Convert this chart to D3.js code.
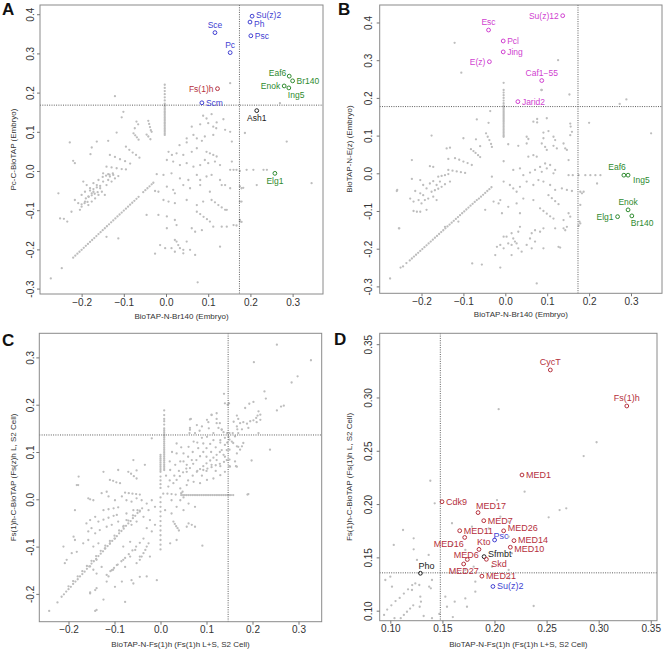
<!DOCTYPE html>
<html><head><meta charset="utf-8">
<script src="https://cdn.jsdelivr.net/npm/d3@7"></script>
<style>body{margin:0;background:#fff}text{font-family:"Liberation Sans",Arial,sans-serif}</style>
</head><body><svg id="c" width="664" height="650"></svg>
<script>
// ---------------- DATA ----------------
// Panel A: x = BioTAP-N-Br140 (Embryo), y = Pc-C-BioTAP (Embryo)
const grayA = [-0.121,0.191,-0.101,0.151,-0.105,0.137,-0.070,0.126,-0.066,0.119,-0.074,0.109,
-0.042,0.128,-0.040,0.120,-0.038,0.112,-0.036,0.104,-0.034,0.100,-0.046,0.093,-0.042,0.088,-0.037,0.081,
-0.077,0.096,-0.073,0.091,-0.069,0.086,-0.065,0.080,0.088,0.141,0.108,0.145,0.096,0.134,0.136,0.132,0.061,0.113,
0.081,0.119,0.100,0.122,0.112,0.113,0.120,0.124,0.119,0.109,-0.117,0.098,-0.137,0.077,-0.164,0.075,-0.228,0.073,
0.049,0.083,0.065,0.092,0.073,0.083,0.092,0.088,0.112,0.092,0.140,0.105,0.152,0.100,0.156,0.075,0.032,0.066,
0.049,0.073,0.085,0.077,-0.095,0.062,-0.087,0.054,-0.079,0.047,-0.071,0.041,-0.063,0.034,-0.176,0.060,-0.179,0.043,
0.006,0.049,0.014,0.041,0.025,0.045,0.041,0.041,0.061,0.049,0.073,0.058,0.096,0.049,0.104,0.045,0.112,0.041,0.120,0.037,
-0.220,0.026,-0.216,0.020,-0.133,0.041,-0.121,0.036,-0.109,0.030,-0.097,0.025,-0.085,0.019,
-0.141,0.011,-0.129,0.009,-0.117,0.007,-0.105,0.005,-0.095,0.004,
0.002,0.028,0.017,0.024,0.033,0.015,0.049,0.020,0.065,0.011,0.081,0.015,0.092,0.028,0.100,0.020,0.116,0.024,0.128,0.015,0.156,0.024,0.160,0.003,
-0.149,-0.006,-0.137,-0.008,-0.125,-0.010,-0.113,-0.013,
-0.022,-0.008,-0.006,-0.010,0.013,-0.006,0.033,-0.019,0.053,-0.023,0.073,-0.010,0.081,-0.023,0.096,-0.014,0.108,-0.010,0.128,-0.023,0.140,-0.036,
-0.196,-0.027,-0.188,-0.036,-0.180,-0.044,-0.172,-0.053,-0.164,-0.036,-0.156,-0.044,-0.149,-0.027,-0.141,-0.036,-0.160,-0.061,-0.168,-0.070,
-0.176,-0.057,-0.184,-0.065,-0.152,-0.053,-0.145,-0.061,-0.137,-0.023,-0.129,-0.027,-0.133,-0.014,-0.121,-0.019,-0.160,-0.023,-0.172,-0.031,
-0.192,-0.053,-0.200,-0.061,-0.255,-0.057,-0.216,-0.074,-0.208,-0.082,-0.200,-0.091,-0.192,-0.078,-0.184,-0.087,-0.176,-0.078,-0.204,-0.099,
-0.224,-0.104,-0.251,-0.121,-0.242,-0.122,-0.234,-0.129,
-0.190,-0.070,-0.183,-0.066,-0.176,-0.062,-0.169,-0.058,-0.162,-0.054,-0.180,-0.050,-0.172,-0.046,-0.164,-0.042,-0.156,-0.038,
-0.150,-0.015,-0.142,-0.012,-0.134,-0.009,-0.126,-0.006,-0.200,-0.085,-0.193,-0.082,-0.186,-0.079,
-0.026,-0.051,-0.018,-0.053,0.002,-0.040,0.017,-0.048,0.021,-0.057,0.041,-0.036,0.057,-0.044,0.081,-0.036,0.104,-0.053,0.132,-0.036,0.152,-0.044,0.179,-0.044,
-0.006,-0.074,0.006,-0.078,0.021,-0.082,0.049,-0.074,0.073,-0.087,0.088,-0.078,
0.108,-0.074,0.116,-0.080,0.124,-0.087,0.132,-0.093,0.140,-0.099,0.175,-0.078,
-0.046,-0.112,-0.018,-0.112,0.002,-0.116,0.021,-0.125,
0.073,-0.104,0.081,-0.110,0.089,-0.117,0.097,-0.123,0.104,-0.129,0.144,-0.099,0.175,-0.129,
-0.141,-0.168,-0.113,-0.172,0.025,-0.138,0.002,-0.146,0.061,-0.146,0.069,-0.155,0.085,-0.151,0.112,-0.142,0.132,-0.142,0.144,-0.142,0.160,-0.138,
-0.014,-0.189,-0.002,-0.197,0.021,-0.176,0.025,-0.180,0.029,-0.189,0.033,-0.197,0.049,-0.180,0.041,-0.201,0.013,-0.197,0.057,-0.201,0.128,-0.193,
-0.026,-0.211,0.021,-0.206,0.041,-0.210,0.069,-0.214,-0.247,-0.248,-0.273,-0.274,0.075,-0.284,
0.152,0.224,0.152,0.003,0.167,0.003,0.175,0.000,0.191,0.003,0.207,0.003,0.231,0.003,0.239,0.003,0.215,-0.036,0.345,-0.031,
0.175,-0.039,0.183,-0.043,0.179,-0.078,0.175,-0.125,0.179,-0.130,0.167,-0.139,0.270,0.173,0.286,0.075,0.187,0.097];
const diagA = [-0.220,-0.221,-0.215,-0.216,-0.210,-0.211,-0.205,-0.206,-0.200,-0.201,-0.195,-0.196,-0.190,-0.191,-0.185,-0.186,
-0.180,-0.181,-0.175,-0.176,-0.170,-0.171,-0.165,-0.166,-0.160,-0.161,-0.155,-0.156,-0.150,-0.151,-0.145,-0.146,-0.140,-0.141,
-0.135,-0.136,-0.130,-0.131,-0.125,-0.126,-0.120,-0.121,-0.115,-0.116,-0.110,-0.111,-0.105,-0.106,-0.100,-0.101,-0.095,-0.096,
-0.090,-0.091,-0.085,-0.086,-0.080,-0.081,-0.075,-0.076,-0.070,-0.071,-0.065,-0.066,-0.054,-0.054,-0.049,-0.049,-0.044,-0.044,
-0.039,-0.039,-0.034,-0.034,-0.030,-0.030];
const stackAx = -0.003;
const stackAy = [0.220,0.212,0.204,0.196,0.188,0.180,0.172,0.168,0.164,0.160,0.156,0.152,0.148,0.144,0.140,0.136,0.132,0.128,0.124,0.120,0.116,0.112,0.108,0.104,0.100,0.096,0.092];
const markA = [["Su(z)2",0.204,0.395,"blue","r2"],["Ph",0.199,0.380,"blue","r5"],["Psc",0.201,0.345,"blue","r"],
["Sce",0.116,0.353,"blue","t"],["Pc",0.152,0.302,"blue","t"],["Fs(1)h",0.122,0.210,"red","l"],["Scm",0.085,0.174,"blue","r"],
["Ash1",0.215,0.154,"black","b"],["Eaf6",0.292,0.242,"green","lu"],["Br140",0.300,0.230,"green","r"],["Enok",0.280,0.217,"green","l"],
["Ing5",0.291,0.212,"green","br"],["Elg1",0.258,-0.006,"green","b"]];

// Panel B: x = BioTAP-N-Br140 (Embryo), y = BioTAP-N-E(z) (Embryo)
const grayB = [0.087,0.221,0.153,0.209,-0.036,0.165,-0.068,0.143,-0.040,0.134,0.067,0.137,0.099,0.146,0.155,0.132,0.156,0.124,0.200,0.134,
-0.176,0.100,0.051,0.097,0.055,0.091,0.091,0.108,0.091,0.093,0.103,0.112,0.115,0.097,0.119,0.088,0.159,0.110,0.155,0.101,0.007,0.077,0.031,0.073,0.051,0.079,
-0.046,0.106,-0.042,0.097,-0.038,0.088,-0.034,0.078,-0.032,0.070,-0.082,0.064,-0.076,0.059,-0.071,0.054,-0.065,0.048,-0.060,0.043,
-0.132,0.068,-0.140,0.066,-0.060,0.072,-0.100,0.093,-0.070,0.090,
0.087,0.079,0.095,0.070,0.099,0.062,0.115,0.073,0.123,0.066,0.139,0.079,0.143,0.066,0.067,0.048,0.075,0.044,0.055,0.044,0.147,0.062,
-0.223,0.035,-0.180,0.019,-0.172,0.017,-0.136,0.038,-0.120,0.040,-0.110,0.036,-0.100,0.031,-0.090,0.027,-0.080,0.022,
-0.136,0.009,-0.126,0.007,-0.116,0.005,-0.106,0.003,-0.096,0.001,-0.004,0.032,-0.032,-0.009,
0.019,0.009,0.035,0.013,0.043,-0.005,0.059,0.002,0.071,0.009,0.083,0.017,0.087,0.004,0.095,0.026,0.099,0.013,0.107,0.022,0.115,0.000,0.119,0.009,0.151,0.035,0.161,-0.005,
0.151,-0.005,0.175,-0.005,0.191,-0.005,0.203,-0.005,0.215,-0.005,0.227,-0.005,
-0.223,-0.015,-0.203,-0.018,-0.196,-0.031,-0.188,-0.040,-0.180,-0.027,-0.172,-0.021,-0.164,-0.031,-0.156,-0.022,-0.152,-0.036,-0.144,-0.029,-0.132,-0.022,
-0.259,-0.047,-0.215,-0.047,-0.227,-0.067,-0.219,-0.075,-0.207,-0.071,-0.200,-0.080,-0.192,-0.071,-0.184,-0.067,-0.172,-0.062,-0.164,-0.071,
-0.203,-0.053,-0.196,-0.058,-0.219,-0.100,-0.211,-0.102,-0.203,-0.102,-0.188,-0.097,-0.176,-0.049,-0.168,-0.045,-0.160,-0.041,
-0.160,-0.009,-0.152,-0.007,-0.144,-0.005,-0.136,-0.002,
-0.004,-0.022,0.011,-0.031,0.019,-0.040,0.027,-0.049,0.035,-0.036,0.051,-0.022,0.067,-0.031,0.079,-0.018,0.091,-0.022,0.107,-0.031,0.119,-0.044,0.135,-0.040,0.147,-0.044,0.159,-0.047,0.187,-0.049,
-0.028,-0.075,-0.016,-0.080,-0.012,-0.071,0.007,-0.089,0.027,-0.080,0.043,-0.067,0.067,-0.071,
0.103,-0.058,0.111,-0.066,0.119,-0.074,0.127,-0.082,0.179,-0.084,-0.048,-0.097,-0.008,-0.106,0.035,-0.106,
0.083,-0.093,0.091,-0.100,0.099,-0.107,0.107,-0.114,0.115,-0.120,0.151,-0.106,0.155,-0.115,0.139,-0.124,0.179,-0.133,
-0.253,-0.146,-0.144,-0.142,-0.112,-0.128,
-0.004,-0.168,0.003,-0.168,0.015,-0.159,0.019,-0.173,0.023,-0.181,0.031,-0.155,0.035,-0.142,0.059,-0.173,0.063,-0.159,0.071,-0.151,0.083,-0.155,0.091,-0.146,0.119,-0.146,0.139,-0.146,0.143,-0.151,0.147,-0.142,
-0.020,-0.195,-0.012,-0.190,-0.004,-0.199,0.007,-0.186,0.015,-0.190,0.027,-0.186,0.031,-0.199,0.039,-0.208,0.051,-0.190,0.063,-0.199,0.071,-0.181,0.091,-0.199,0.131,-0.197,
-0.024,-0.217,0.015,-0.217,-0.056,-0.242,-0.012,-0.250,0.075,-0.292,-0.275,-0.279,
-0.121,0.346,-0.105,0.267,0.126,0.300,0.086,0.221,0.273,0.184,0.289,0.196,0.348,0.106,0.076,0.144,0.076,0.135,
0.179,-0.049,0.183,-0.053,0.177,-0.128,0.175,-0.139,0.219,-0.027,-0.258,-0.044,-0.254,-0.146,0.127,-0.195,-0.079,-0.239];
const diagB = [-0.250,-0.250,-0.244,-0.247,-0.236,-0.238,-0.228,-0.231,-0.223,-0.226,-0.218,-0.221,-0.213,-0.216,-0.208,-0.211,-0.203,-0.206,
-0.198,-0.201,-0.193,-0.196,-0.188,-0.191,-0.183,-0.186,-0.178,-0.181,-0.173,-0.176,-0.168,-0.171,-0.163,-0.166,-0.158,-0.161,
-0.153,-0.156,-0.148,-0.151,-0.143,-0.146,-0.138,-0.141,-0.133,-0.136,-0.128,-0.131,-0.123,-0.126,-0.118,-0.121,-0.113,-0.116,
-0.108,-0.111,-0.103,-0.106,-0.098,-0.101,-0.093,-0.096,-0.088,-0.091,-0.083,-0.086,-0.078,-0.081,-0.073,-0.076,-0.068,-0.071,
-0.063,-0.067,-0.058,-0.062,-0.053,-0.057,-0.048,-0.052,-0.043,-0.047,-0.038,-0.042,-0.033,-0.037];
const stackBx = -0.004;
const stackBy = [0.240,0.221,0.214,0.207,0.200,0.193,0.186,0.180,0.176,0.172,0.168,0.164,0.160,0.156,0.152,0.148,0.144,0.140,0.136,0.132,0.128,0.124,0.120,0.116,0.112,0.108,0.104,0.100,0.097];
const markB = [["Su(z)12",0.137,0.418,"magenta","l"],["Esc",-0.040,0.380,"magenta","t"],["Pcl",-0.005,0.351,"magenta","r"],
["Jing",-0.005,0.322,"magenta","r"],["E(z)",-0.038,0.296,"magenta","l"],["Caf1\u221255",0.087,0.246,"magenta","t"],
["Jarid2",0.030,0.190,"magenta","r"],["Eaf6",0.283,-0.005,"green","tl"],["Ing5",0.293,-0.005,"green","rd"],
["Enok",0.293,-0.097,"green","t"],["Br140",0.302,-0.113,"green","br"],["Elg1",0.268,-0.115,"green","l"]];

// Panel C: x = BioTAP-N-Fs(1)h (L+S, S2), y = Fs(1)h-C-BioTAP (L, S2)
const grayC = [-0.242,-0.236,-0.224,-0.218,-0.142,-0.236,-0.077,-0.217,-0.124,-0.212,-0.153,-0.197,-0.142,-0.192,-0.186,-0.023,-0.179,0.030,
-0.211,-0.100,-0.208,-0.135,-0.204,-0.128,-0.189,-0.079,-0.186,-0.086,-0.153,0.000,-0.092,0.062,-0.059,0.083,-0.034,0.073,-0.052,0.061,
-0.019,0.129,0.035,0.118,0.064,0.169,0.090,0.154,0.111,0.178,0.122,0.161,0.140,0.203,0.159,0.164,0.166,0.154,0.157,0.140,
-0.008,-0.171,0.091,-0.098,0.075,-0.058,0.061,-0.051,0.068,-0.054,
-0.110,0.041,-0.103,0.039,-0.096,0.036,-0.088,0.034,-0.070,0.058,-0.064,0.054,-0.058,0.049,-0.052,0.044,
-0.077,0.014,-0.069,0.013,-0.061,0.012,-0.053,0.011,-0.045,0.010,-0.124,-0.023,-0.113,-0.021,-0.102,-0.019,-0.092,-0.017,
-0.135,-0.047,-0.124,-0.043,-0.113,-0.039,-0.102,-0.035,-0.095,-0.033,
-0.146,-0.002,-0.128,0.013,-0.117,0.016,-0.113,0.006,-0.099,-0.002,-0.084,0.006,-0.074,-0.002,-0.063,-0.005,-0.052,0.002,-0.041,-0.002,
-0.030,-0.009,-0.019,-0.002,-0.012,-0.016,-0.026,-0.023,-0.045,-0.026,-0.059,-0.023,-0.074,-0.030,-0.142,-0.037,-0.153,-0.044,-0.161,-0.051,
-0.150,-0.061,-0.157,-0.068,-0.142,-0.072,-0.132,-0.065,-0.117,-0.058,-0.106,-0.054,-0.092,-0.047,-0.081,-0.058,-0.074,-0.044,-0.063,-0.054,
-0.052,-0.047,-0.037,-0.037,-0.023,-0.044,-0.012,-0.054,-0.019,-0.068,-0.030,-0.061,-0.168,-0.093,-0.157,-0.086,-0.146,-0.100,-0.135,-0.093,
-0.121,-0.104,-0.110,-0.093,-0.099,-0.083,-0.081,-0.100,-0.066,-0.090,-0.055,-0.107,-0.066,-0.121,-0.081,-0.128,-0.095,-0.139,-0.106,-0.150,
-0.077,-0.143,-0.052,-0.135,-0.045,-0.121,-0.023,-0.121,-0.026,-0.093,-0.139,-0.128,-0.128,-0.143,-0.139,-0.157,-0.117,-0.174,-0.099,-0.185,
-0.084,-0.174,-0.059,-0.178,-0.045,-0.164,0.021,-0.093,0.035,-0.086,
0.010,-0.023,0.024,-0.030,0.035,-0.016,0.050,-0.023,0.061,-0.009,0.075,-0.016,0.024,-0.002,0.043,-0.002,0.017,0.027,0.028,0.034,
0.043,0.023,0.057,0.030,0.072,0.037,0.086,0.034,0.101,0.041,0.115,0.044,0.130,0.051,0.140,0.058,0.151,0.069,0.021,0.062,
0.032,0.073,0.043,0.080,0.035,0.097,0.050,0.097,0.061,0.111,0.072,0.122,0.082,0.108,0.093,0.118,0.101,0.132,0.115,0.140,
0.130,0.125,0.140,0.115,0.144,0.104,0.137,0.094,0.122,0.083,0.111,0.073,0.068,0.083,0.057,0.073,0.064,0.147,0.079,0.157,
0.101,0.168,0.122,0.182,0.133,0.147,0.148,0.132,0.155,0.122,0.169,0.111,0.166,0.097,0.162,0.080,0.166,0.069,
0.060,0.090,0.070,0.100,0.080,0.120,0.090,0.130,0.100,0.090,0.110,0.100,0.120,0.110,0.130,0.120,0.140,0.130,0.050,0.080,
0.060,0.040,0.070,0.050,0.080,0.060,0.090,0.050,0.100,0.060,0.120,0.060,0.130,0.070,0.140,0.090,0.145,0.120,0.145,0.140,
0.030,0.050,0.040,0.060,0.020,0.040,0.012,0.050,0.020,0.080,0.025,0.100,0.045,0.110,0.075,0.140,0.085,0.145,0.105,0.150,
-0.193,-0.114,-0.182,-0.111,-0.153,-0.142,-0.146,-0.149,-0.153,-0.199,-0.139,-0.188,-0.139,-0.234,-0.103,-0.149,-0.113,-0.163,
-0.063,-0.171,-0.030,-0.163,0.057,-0.058,-0.182,0.030,-0.157,0.002,-0.124,0.058,-0.178,0.048,0.045,0.013,0.050,0.004,0.048,0.016,
0.253,0.327,0.203,0.290,0.327,0.294,0.298,0.260,0.285,0.247,0.226,0.228,0.229,0.213,0.138,0.223,0.149,0.203,0.146,0.200,
0.202,0.206,0.193,0.202,0.184,0.193,0.253,0.188,0.262,0.196,0.268,0.198,0.213,0.186,0.217,0.179,0.211,0.177,0.208,0.172,
0.217,0.168,0.209,0.163,0.202,0.167,0.166,0.177,0.169,0.170,0.173,0.161,0.180,0.163,0.188,0.160,0.195,0.165,0.191,0.151,
0.177,0.148,0.167,0.148,0.169,0.140,0.162,0.133,0.213,0.140,0.238,0.105,0.198,0.082,0.164,0.070,0.189,0.010,0.111,0.179,
0.104,0.163,0.122,0.170,0.129,0.161,0.126,0.151,0.133,0.148,0.137,0.142,0.066,0.170,0.064,0.151,0.063,0.140,0.150,0.140,
0.150,0.126,0.150,0.105,0.150,0.084,0.150,0.070,0.158,0.119,0.166,0.112,0.173,0.105,0.180,0.119,0.177,0.112,0.191,0.011];
const raysC = [0.057,0.058,0.064,0.066,0.071,0.075,0.078,0.083,0.086,0.091,0.093,0.100,0.100,0.108,0.108,0.117,0.115,0.125,
0.079,0.058,0.086,0.064,0.093,0.070,0.100,0.076,0.108,0.082,0.115,0.088,0.122,0.094,0.129,0.100,0.133,0.104,
0.093,0.062,0.102,0.065,0.111,0.068,0.120,0.072,0.129,0.075,0.138,0.079,0.144,0.083,0.035,0.041,0.042,0.049,0.049,0.057,0.056,0.065,
-0.117,-0.160,-0.109,-0.152,-0.101,-0.145,-0.093,-0.138,-0.085,-0.131,-0.077,-0.124,-0.069,-0.116,-0.061,-0.108,-0.053,-0.100,-0.045,-0.092,-0.037,-0.083,
-0.045,-0.128,-0.041,-0.121,-0.037,-0.114,-0.033,-0.107,-0.030,-0.100,0.028,-0.047,0.031,-0.052,0.034,-0.057,0.037,-0.061,0.040,-0.066,
0.006,0.012,0.015,0.012,0.024,0.011,0.033,0.010];
const diagC = [-0.215,-0.206,-0.210,-0.201,-0.205,-0.195,-0.200,-0.190,-0.195,-0.185,-0.190,-0.179,-0.185,-0.174,-0.180,-0.169,-0.175,-0.163,
-0.170,-0.158,-0.165,-0.153,-0.160,-0.147,-0.155,-0.142,-0.150,-0.136,-0.145,-0.131,-0.140,-0.126,-0.135,-0.120,-0.130,-0.115,
-0.125,-0.110,-0.120,-0.104,-0.115,-0.099,-0.110,-0.094,-0.105,-0.088,-0.100,-0.083,-0.095,-0.078,-0.090,-0.072,-0.085,-0.067,
-0.080,-0.062,-0.075,-0.056,-0.070,-0.051,-0.065,-0.046,-0.060,-0.040,-0.055,-0.035,-0.050,-0.029,-0.045,-0.024,-0.040,-0.019,
-0.200,-0.184,-0.190,-0.173,-0.180,-0.163,-0.170,-0.152,-0.160,-0.141,-0.150,-0.130,-0.140,-0.120,-0.130,-0.109,-0.120,-0.098,
-0.110,-0.088,-0.100,-0.077,-0.090,-0.066,-0.080,-0.056,-0.070,-0.045,-0.060,-0.034,-0.050,-0.023];
const stackC1x = 0.008;
const stackC1y = [0.188,0.178,0.170,0.165,0.158,0.150,0.146,0.142,0.138,0.134,0.130,0.126,0.122,0.118,0.114,0.110,0.106,0.102,0.098,0.094,0.090,0.086,0.082,0.078,0.074,0.070,0.066,0.062];
const stackC2x = 0.000;
const stackC2y = [0.094,0.090,0.086,0.082,0.078,0.074,0.070,0.066,0.062,0.058,0.048,0.040,0.032,0.024,0.004,-0.006,-0.016,-0.026,-0.036,-0.046,-0.056,-0.066,-0.076,-0.086,-0.096,-0.106];
const hrayCy = 0.009;
const hrayCx = [0.045,0.049,0.053,0.057,0.061,0.065,0.069,0.073,0.077,0.081,0.085,0.089,0.093,0.097,0.101,0.105,0.109,0.113,0.117,0.121,0.125,0.129,0.133,0.137,0.141,0.145,0.149,0.153,0.158];

// Panel D: zoom of panel C's upper right
const grayD = [0.1384,0.2219,0.2289,0.2116,0.1426,0.2007,0.2024,0.2038,0.2520,0.1876,0.2625,0.1944,0.2689,0.1960,0.2136,0.1835,
0.1122,0.1757,0.1224,0.1679,0.1033,0.1617,0.1224,0.1576,0.1368,0.1523,0.1256,0.1476,0.2056,0.1882,0.1944,0.1773,0.2136,0.1694,
0.2168,0.1538,0.2136,0.1382,0.2142,0.1304,0.1720,0.1570,0.1800,0.1413,0.1816,0.1272,0.1720,0.1382,0.1976,0.1413,0.1592,0.1820,
0.1784,0.1788,0.1592,0.1616,0.1016,0.1225,0.0952,0.1288,0.1000,0.1319,0.1278,0.1241,0.1373,0.1225,0.1389,0.1210,0.1288,0.1131,
0.1294,0.1084,0.1282,0.1037,0.097,0.101,0.101,0.105,0.105,0.109,0.109,0.112,0.113,0.116,0.117,0.120,0.121,0.124,
0.110,0.093,0.113,0.096,0.116,0.099,0.119,0.102,0.122,0.105,0.1528,0.1131,0.1618,0.1084,0.1544,0.1037,0.1736,0.1037,0.1720,0.1115,
0.1816,0.1178,0.2376,0.1044,0.1208,0.1194,0.1240,0.1256,0.1400,0.1288,0.094,0.096,0.104,0.093,0.132,0.095,0.140,0.093,0.147,0.097,0.160,0.094,
0.204,0.289,0.2856,0.245,0.298,0.258];
const markD = [["CycT",0.2536,0.3258,"red","t"],["Fs(1)h",0.327,0.292,"red","t"],["MED1",0.2264,0.2273,"red","r"],
["Cdk9",0.1496,0.2022,"red","r"],["MED17",0.1842,0.192,"red","tr"],["MED7",0.1897,0.1844,"red","r"],["MED11",0.1666,0.1750,"red","r"],
["MED26",0.2088,0.1749,"red","ru"],["Psc",0.2001,0.1663,"blue","pr"],["MED14",0.2187,0.1657,"red","r2"],["MED16",0.1714,0.1687,"red","bl"],
["Kto",0.1851,0.1575,"red","tr"],["MED10",0.2152,0.1595,"red","r4"],["Sfmbt",0.1900,0.1507,"black","ru"],["MED6",0.1739,0.148,"red","tc"],
["Skd",0.1922,0.1482,"red","rd"],["MED27",0.1704,0.1438,"red","b"],["Pho",0.1289,0.1351,"black","tr"],["MED21",0.1879,0.1324,"red","r"],
["Su(z)2",0.1985,0.1227,"blue","r"]];

// ticks and thresholds
const ticksAB_x = [-0.2,-0.1,0,0.1,0.2,0.3];
const ticksAB_y = [-0.3,-0.2,-0.1,0,0.1,0.2,0.3,0.4];
const ticksC_x = [-0.2,-0.1,0,0.1,0.2,0.3];
const ticksC_y = [-0.2,-0.1,0,0.1,0.2,0.3];
const ticksD = [0.10,0.15,0.20,0.25,0.30,0.35];
const thresholds = {A:[0.174,0.168],B:[0.1735,0.177],C:[0.147,0.136],D:[0.148,0.1355]};

// ---------------- DRAWING ----------------
const svg = d3.select('#c');
const colors = {blue:'#3f3fd2',red:'#b5303c',green:'#2e8a2e',magenta:'#d03fd0',black:'#222'};
const offs = {r:[4,3,'start'],r2:[4,2,'start'],r4:[4,4.5,'start'],r5:[4,5,'start'],l:[-4,3,'end'],t:[0,-5,'middle'],tc:[-1,-2,'middle'],
  b:[0,10.5,'middle'],lu:[-3,0,'end'],br:[-1,10,'start'],bl:[-1,10,'end'],tr:[-2,-4,'start'],pr:[-1,-1.5,'start'],
  tl:[2,-5,'end'],rd:[5,8,'start'],ru:[4,0,'start']};
function pairs(a){const o=[];for(let i=0;i<a.length;i+=2)o.push([a[i],a[i+1]]);return o;}
const col=(x,ys)=>ys.map(v=>[x,v]);
const row=(xs,y)=>xs.map(v=>[v,y]);
const fmtX=d=>d3.format('.1f')(d).replace('-','\u2212');
const fmtY=d=>d3.format('.1f')(d).replace('\u2212','-');

const panels=[
 {id:'A',l:40,r:323,t:5,b:294,xd:[-0.2986,0.372],yd:[-0.3138,0.4235],xt:ticksAB_x,yt:ticksAB_y,fx:fmtX,fy:fmtY,
  gray:[...pairs(grayA),...pairs(diagA),...col(stackAx,stackAy)],marks:markA,lab:[2,15],
  xtitle:'BioTAP-N-Br140 (Embryo)',ytitle:'Pc-C-BioTAP (Embryo)',ytl:5.7,yto:24,xto:24.7,fs:8.5},
 {id:'B',l:379.7,r:662,t:5,b:293.3,xd:[-0.2998,0.374],yd:[-0.3183,0.4464],xt:ticksAB_x,yt:ticksAB_y,fx:fmtX,fy:fmtY,
  gray:[...pairs(grayB),...pairs(diagB),...col(stackBx,stackBy)],marks:markB,lab:[338,15],
  xtitle:'BioTAP-N-Br140 (Embryo)',ytitle:'BioTAP-N-E(z) (Embryo)',ytl:7.3,yto:28,xto:23.5,fs:8.5},
 {id:'C',l:39.3,r:321.7,t:333.3,b:621.7,xd:[-0.2635,0.3504],yd:[-0.2588,0.351],xt:ticksC_x,yt:ticksC_y,fx:fmtX,fy:fmtY,
  gray:[...pairs(grayC),...pairs(raysC),...pairs(diagC),...col(stackC1x,stackC1y),...col(stackC2x,stackC2y),...row(hrayCx,hrayCy)],marks:[],lab:[2,346],
  xtitle:'BioTAP-N-Fs(1)h (Fs(1)h L+S, S2 Cell)',ytitle:'Fs(1)h-C-BioTAP (Fs(z)h L, S2 Cell)',ytl:5.7,yto:23.3,xto:25.3,fs:8.5},
 {id:'D',l:379.7,r:657,t:333.3,b:620.7,xd:[0.0898,0.356],yd:[0.0906,0.3602],xt:ticksD,yt:ticksD,fx:d3.format('.2f'),fy:d3.format('.2f'),
  gray:pairs(grayD),marks:markD,lab:[334,345],
  xtitle:'BioTAP-N-Fs(1)h (Fs(1)h L+S, S2 Cell)',ytitle:'Fs(1)h-C-BioTAP (Fs(1)h L, S2 Cell)',ytl:7.5,yto:27.4,xto:26,fs:9}
];

panels.forEach(p=>{
 const g=svg.append('g');
 const x=d3.scaleLinear().domain(p.xd).range([p.l,p.r]);
 const y=d3.scaleLinear().domain(p.yd).range([p.b,p.t]);
 const clip='clip'+p.id;
 svg.append('clipPath').attr('id',clip).append('rect').attr('x',p.l).attr('y',p.t).attr('width',p.r-p.l).attr('height',p.b-p.t);
 g.append('g').attr('clip-path',`url(#${clip})`).selectAll('circle').data(p.gray).join('circle')
  .attr('cx',d=>x(d[0])).attr('cy',d=>y(d[1])).attr('r',1.15).attr('fill','#bdbdbd');
 const th=thresholds[p.id];
 g.append('line').attr('x1',x(th[0])).attr('x2',x(th[0])).attr('y1',p.t).attr('y2',p.b)
  .attr('stroke','#333').attr('stroke-width',0.8).attr('stroke-dasharray','1,1.3');
 g.append('line').attr('x1',p.l).attr('x2',p.r).attr('y1',y(th[1])).attr('y2',y(th[1]))
  .attr('stroke','#333').attr('stroke-width',0.8).attr('stroke-dasharray','1,1.3');
 g.append('rect').attr('x',p.l).attr('y',p.t).attr('width',p.r-p.l).attr('height',p.b-p.t)
  .attr('fill','none').attr('stroke','#8a8a8a').attr('stroke-width',1);
 const xa=g.append('g').attr('transform',`translate(0,${p.b})`)
  .call(d3.axisBottom(x).tickValues(p.xt).tickSize(3).tickFormat(p.fx));
 xa.select('.domain').remove();
 xa.selectAll('line').attr('stroke','#777');
 xa.selectAll('text').attr('y',11.6).attr('dy',null).attr('font-size',10).attr('fill','#333')
  .style('font-family','"Liberation Sans",Arial,sans-serif');
 const ya=g.append('g').attr('transform',`translate(${p.l},0)`)
  .call(d3.axisLeft(y).tickValues(p.yt).tickSize(3).tickFormat(p.fy));
 ya.select('.domain').remove();
 ya.selectAll('line').attr('stroke','#777');
 ya.selectAll('text').attr('x',null).attr('dy',null).attr('text-anchor','middle')
  .attr('transform',`translate(${-p.ytl},0) rotate(-90)`).attr('font-size',10).attr('fill','#333')
  .style('font-family','"Liberation Sans",Arial,sans-serif');
 g.append('text').attr('x',(p.l+p.r)/2).attr('y',p.b+p.xto).attr('text-anchor','middle')
  .attr('font-size',8).attr('fill','#333').text(p.xtitle);
 g.append('text').attr('transform',`translate(${p.l-p.yto},${(p.t+p.b)/2}) rotate(-90)`).attr('text-anchor','middle')
  .attr('font-size',8).attr('fill','#333').text(p.ytitle);
 g.append('text').attr('x',p.lab[0]).attr('y',p.lab[1]).attr('font-size',17).attr('font-weight','bold')
  .attr('fill','#111').text(p.id);
 const m=g.append('g');
 m.selectAll('circle').data(p.marks).join('circle').attr('cx',d=>x(d[1])).attr('cy',d=>y(d[2])).attr('r',1.9)
  .attr('fill','none').attr('stroke',d=>colors[d[3]]).attr('stroke-width',1);
 m.selectAll('text').data(p.marks).join('text').attr('x',d=>x(d[1])+offs[d[4]][0]).attr('y',d=>y(d[2])+offs[d[4]][1])
  .attr('text-anchor',d=>offs[d[4]][2]).attr('font-size',p.fs).attr('fill',d=>colors[d[3]]).text(d=>d[0]);
});
</script></body></html>
